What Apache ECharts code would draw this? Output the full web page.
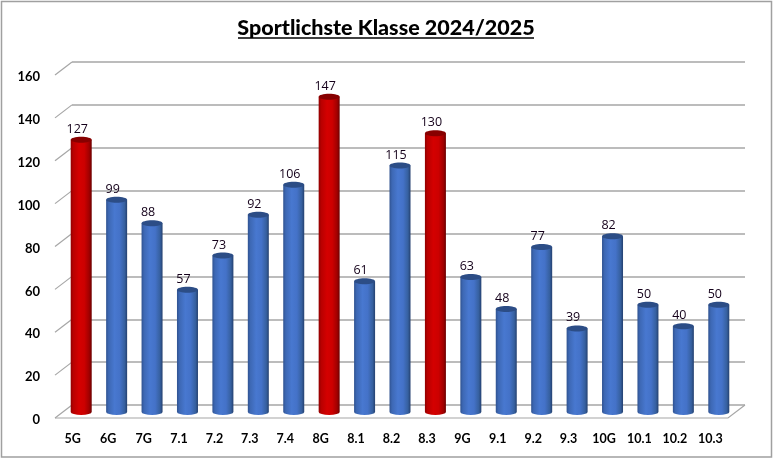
<!DOCTYPE html>
<html><head><meta charset="utf-8">
<style>html,body{margin:0;padding:0;background:#fff}#c{width:773px;height:459px}</style>
<script src="https://cdn.jsdelivr.net/npm/echarts@6/dist/echarts.min.js"></script>
</head><body><div id="c"></div>
<script>
const chartTitle = 'Sportlichste Klasse 2024/2025';
const categories = ['5G','6G','7G','7.1','7.2','7.3','7.4','8G','8.1','8.2','8.3','9G','9.1','9.2','9.3','10G','10.1','10.2','10.3'];
const points = [127,99,88,57,73,92,106,147,61,115,130,63,48,77,39,82,50,40,50];
const highlighted = ['5G','8G','8.3'];
const yTicks = [0,20,40,60,80,100,120,140,160];

const DX = 17, DY = 13, LINE = '#a6a6a6';
const chart = echarts.init(document.getElementById('c'), null, {renderer:'canvas'});

function grad(stops){
  return new echarts.graphic.LinearGradient(0,0,1,0,stops.map((c,i)=>({offset:c[0],color:c[1]})));
}
const BLUE = [[0,'#2f5290'],[0.12,'#3d68b4'],[0.4,'#4878d0'],[0.65,'#4472c8'],[0.88,'#36609f'],[1,'#24406f']];
const RED  = [[0,'#8f0000'],[0.12,'#b80000'],[0.4,'#d40000'],[0.65,'#cc0000'],[0.88,'#a00000'],[1,'#6a0000']];

function renderCylinder(params, api){
  const i = api.value(0), v = api.value(1);
  const top = api.coord([i, v]), base = api.coord([i, 0]);
  const cx = top[0] + DX/2, w = 21, rx = w/2, ry = 3;
  const yt = top[1] - DY/2 + 0.5, yb = base[1] - DY/2 + 0.5;
  const hot = highlighted.includes(categories[i]);
  const body = `M${cx-rx} ${yt} L${cx-rx} ${yb} A${rx} ${ry} 0 0 0 ${cx+rx} ${yb} L${cx+rx} ${yt} Z`;
  return {type:'group', children:[
    {type:'path', shape:{pathData:body}, style:{fill:grad(hot?RED:BLUE)}},
    {type:'ellipse', shape:{cx:cx,cy:yt,rx:rx,ry:ry}, style:{fill:hot?'#870000':'#2c4d86'}},
    {type:'text', style:{text:String(v), x:cx-4, y:yt-4, align:'center', verticalAlign:'bottom',
      font:'12.5px "Open Sans", sans-serif', fill:'#14001a'}}
  ]};
}
function renderWall(params, api){
  const cs = params.coordSys;
  const y = api.coord([0, api.value(0)])[1];
  return {type:'line', shape:{x1:cs.x, y1:y, x2:cs.x+DX, y2:y-DY}, style:{stroke:LINE, lineWidth:1.2}};
}
function renderFloor(params, api){
  const cs = params.coordSys;
  const y = api.coord([0, 0])[1];
  return {type:'polyline', shape:{points:[[cs.x,y],[cs.x+cs.width,y],[cs.x+cs.width+DX,y-DY]]},
    style:{stroke:LINE, lineWidth:1.2, fill:null}};
}

chart.setOption({
  animation:false,
  backgroundColor:'#fff',
  title:{text:chartTitle, left:381, top:12, textAlign:'center',
    textStyle:{fontFamily:'Lato, sans-serif', fontSize:21.5, fontWeight:900, color:'#000'}},
  grid:[
    {left:55, right:45, top:75, bottom:41},
    {left:55+DX, right:45-DX, top:75-DY, bottom:41+DY}
  ],
  xAxis:[
    {type:'category', gridIndex:0, data:categories,
      axisLine:{show:false}, axisTick:{show:false},
      axisLabel:{interval:0, margin:14, color:'#000', fontFamily:'Lato, sans-serif', fontWeight:'bold', fontSize:12.5}},
    {type:'category', gridIndex:1, data:categories, show:false}
  ],
  yAxis:[
    {type:'value', gridIndex:0, min:0, max:160, interval:20,
      axisLine:{show:false}, axisTick:{show:false}, splitLine:{show:false},
      axisLabel:{margin:15, verticalAlign:'top', lineHeight:4, color:'#000', fontFamily:'Lato, sans-serif', fontWeight:'bold', fontSize:13}},
    {type:'value', gridIndex:1, min:0, max:160, interval:20,
      axisLine:{show:false}, axisTick:{show:false}, axisLabel:{show:false},
      splitLine:{show:true, lineStyle:{color:LINE, width:1.5}}}
  ],
  series:[
    {type:'custom', xAxisIndex:0, yAxisIndex:0, data:yTicks.map(t=>[t]), encode:{y:0}, renderItem:renderWall, silent:true, z:1},
    {type:'custom', xAxisIndex:0, yAxisIndex:0, data:[[0]], encode:{y:0}, renderItem:renderFloor, silent:true, z:1},
    {type:'custom', xAxisIndex:0, yAxisIndex:0, data:points.map((v,i)=>[i,v]), encode:{x:0,y:1}, renderItem:renderCylinder, z:3}
  ],
  graphic:[
    {type:'rect', shape:{x:1.5,y:1.5,width:770,height:455.5}, style:{fill:null, stroke:'#a0a0a0', lineWidth:1.5}, silent:true, z:0},
    {type:'line', shape:{x1:238,y1:38,x2:534,y2:38}, style:{stroke:'#000', lineWidth:1.6}, silent:true, z:5}
  ]
});
</script></body></html>
